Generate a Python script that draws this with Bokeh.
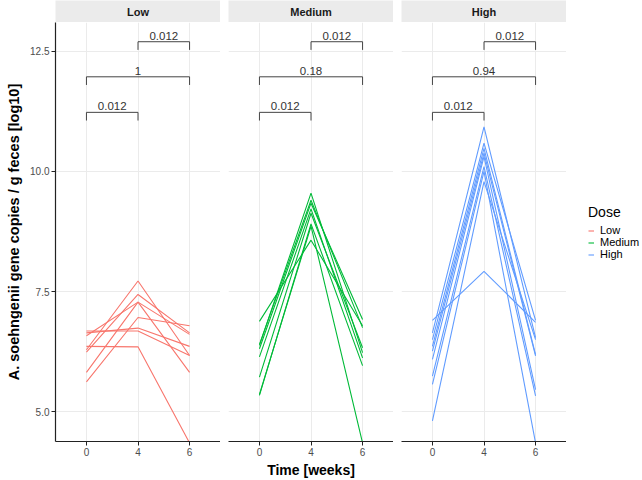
from bokeh.plotting import figure
from bokeh.layouts import row, column
from bokeh.models import (FactorRange, Range1d, FixedTicker, Legend, LegendItem,
                          ColumnDataSource, PrintfTickFormatter)
from bokeh.embed import file_html
from bokeh.resources import INLINE
from bokeh.core.properties import value

# ---------------- data ----------------
times = ["0", "4", "6"]
doses = ["Low", "Medium", "High"]
dose_colors = ["#F8766D", "#00BA38", "#619CFF"]

low_week0 = [6.64, 6.68, 6.58, 6.29, 6.24, 5.82, 5.62, 6.36]
low_week4 = [6.74, 6.68, 7.28, 7.72, 7.44, 7.28, 6.96, 6.35]
low_week6 = [6.36, 6.17, 6.61, 6.17, 6.64, 5.82, 6.79, 4.35]

medium_week0 = [6.88, 6.38, 6.31, 6.14, 5.72, 5.34, 5.36, 6.40]
medium_week4 = [8.57, 9.55, 9.34, 9.22, 9.13, 8.91, 8.86, 9.40]
medium_week6 = [6.79, 6.23, 6.92, 6.12, 6.33, 5.96, 4.35, 6.75]

high_week0 = [6.90, 6.64, 6.50, 6.36, 6.26, 6.09, 5.74, 5.57, 4.81]
high_week4 = [7.92, 10.93, 10.59, 10.48, 10.38, 10.31, 10.10, 10.00, 9.79]
high_week6 = [6.86, 6.54, 6.90, 6.19, 6.16, 5.46, 5.33, 4.35, 6.50]

bracket_from = ["0", "0", "4"]
bracket_to = ["4", "6", "6"]
bracket_y = [11.23, 11.97, 12.70]
bracket_tip = 0.17
low_pvalues = ["0.012", "1", "0.012"]
medium_pvalues = ["0.012", "0.18", "0.012"]
high_pvalues = ["0.012", "0.94", "0.012"]

y_ticks = [5.0, 7.5, 10.0, 12.5]
y_limits = (4.38, 13.10)

series = {
    "Low": (low_week0, low_week4, low_week6, low_pvalues),
    "Medium": (medium_week0, medium_week4, medium_week6, medium_pvalues),
    "High": (high_week0, high_week4, high_week6, high_pvalues),
}

# ---------------- styling ----------------
FONT = "Liberation Sans"
FRAME_W = 165
STRIP_H = 22
PANEL_H = 458
LEFT = 55
BOTTOM = 38
GAP = 8
GRID = "#EBEBEB"
AXIS = "#222222"


def make_strip(label, first):
    s = figure(width=FRAME_W + (LEFT if first else 0), height=STRIP_H,
               x_range=Range1d(0, 1), y_range=Range1d(0, 1),
               x_axis_location=None, y_axis_location=None,
               output_backend="svg", toolbar_location=None,
               min_border=0, min_border_left=LEFT if first else 0)
    s.grid.visible = False
    s.outline_line_color = None
    s.background_fill_color = "#EBEBEB"
    s.border_fill_color = "white"
    s.text(x=[0.5], y=[0.5], text=[label], text_align="center",
           text_baseline="middle", text_font=value(FONT),
           text_font_size="11px", text_font_style="bold", text_color="#1A1A1A")
    return s


def make_panel(dose, color, first, middle):
    w0, w4, w6, pv = series[dose]
    p = figure(width=FRAME_W + (LEFT if first else 0), height=PANEL_H,
               x_range=FactorRange(factors=times, range_padding=0.1,
                                   range_padding_units="absolute"),
               y_range=Range1d(*y_limits),
               y_axis_location="left" if first else None,
               output_backend="svg", toolbar_location=None,
               min_border=0, min_border_left=LEFT if first else 0,
               min_border_bottom=BOTTOM)
    p.outline_line_color = None
    p.background_fill_color = "white"
    p.border_fill_color = "white"

    p.xgrid.grid_line_color = GRID
    p.xgrid.grid_line_width = 1
    p.ygrid.ticker = FixedTicker(ticks=y_ticks)
    p.ygrid.grid_line_color = GRID
    p.ygrid.grid_line_width = 1

    xa = p.xaxis[0]
    xa.axis_line_color = AXIS
    xa.axis_line_width = 1.2
    xa.major_tick_line_color = AXIS
    xa.major_tick_out = 4
    xa.major_tick_in = 0
    xa.major_label_standoff = 2
    xa.major_label_text_font = FONT
    xa.major_label_text_font_size = "10px"
    xa.major_label_text_color = "#4D4D4D"
    xa.axis_label = "Time [weeks]" if middle else "\u00a0"
    xa.axis_label_text_font = FONT
    xa.axis_label_text_font_size = "14px"
    xa.axis_label_text_font_style = "bold"
    xa.axis_label_text_color = "black"
    xa.axis_label_standoff = 3

    if first:
        ya = p.yaxis[0]
        ya.ticker = FixedTicker(ticks=y_ticks)
        ya.formatter = PrintfTickFormatter(format="%.1f")
        ya.axis_line_color = AXIS
        ya.axis_line_width = 1.2
        ya.major_tick_line_color = AXIS
        ya.major_tick_out = 4
        ya.major_tick_in = 0
        ya.minor_tick_line_color = None
        ya.major_label_standoff = 2
        ya.major_label_text_font = FONT
        ya.major_label_text_font_size = "10px"
        ya.major_label_text_color = "#4D4D4D"
        ya.axis_label = "A. soehngenii gene copies / g feces [log10]"
        ya.axis_label_text_font = FONT
        ya.axis_label_text_font_size = "14.5px"
        ya.axis_label_text_font_style = "bold"
        ya.axis_label_text_color = "black"
        ya.axis_label_standoff = 5

    # subject trajectories
    xs = [list(times) for _ in w0]
    ys = [[a, b, c] for a, b, c in zip(w0, w4, w6)]
    p.multi_line(xs=xs, ys=ys, line_color=color, line_width=1.1)

    # significance brackets
    bxs = [[a, a, b, b] for a, b in zip(bracket_from, bracket_to)]
    bys = [[y - bracket_tip, y, y, y - bracket_tip] for y in bracket_y]
    p.multi_line(xs=bxs, ys=bys, line_color="#444444", line_width=1)
    mids = [(times.index(a) + times.index(b)) / 2 + 0.5
            for a, b in zip(bracket_from, bracket_to)]
    src = ColumnDataSource(dict(x=mids, y=bracket_y, t=pv))
    p.text(x="x", y="y", text="t", source=src, text_align="center",
           text_baseline="bottom", y_offset=-2, text_font=value(FONT),
           text_font_size="11.5px", text_color="#333333")
    return p


cols = []
for i, (dose, color) in enumerate(zip(doses, dose_colors)):
    strip = make_strip(dose, i == 0)
    panel = make_panel(dose, color, i == 0, i == 1)
    cols.append(column(strip, panel, spacing=0))

# legend figure
nan = float("nan")
lg = figure(width=68, height=STRIP_H + PANEL_H,
            x_range=Range1d(0, 1), y_range=Range1d(0, 1),
            x_axis_location=None, y_axis_location=None,
            output_backend="svg", toolbar_location=None, min_border=0)
lg.grid.visible = False
lg.outline_line_color = None
items = []
for dose, color in zip(doses, dose_colors):
    r = lg.line(x=[nan], y=[nan], line_color=color, line_width=1.1)
    items.append(LegendItem(label=dose, renderers=[r]))
legend = Legend(items=items, title="Dose", location=(14, 220),
                title_text_font=FONT, title_text_font_size="14px",
                title_text_font_style="normal", title_text_color="black",
                title_standoff=4,
                label_text_font=FONT, label_text_font_size="11px",
                label_text_color="black",
                glyph_width=6, glyph_height=11, label_height=11,
                label_standoff=6, spacing=-1, padding=0, margin=0,
                border_line_color=None, background_fill_alpha=0)
lg.add_layout(legend)

layout = row(*cols, lg, spacing=GAP)

open("out.html", "w").write(file_html(layout, INLINE))
